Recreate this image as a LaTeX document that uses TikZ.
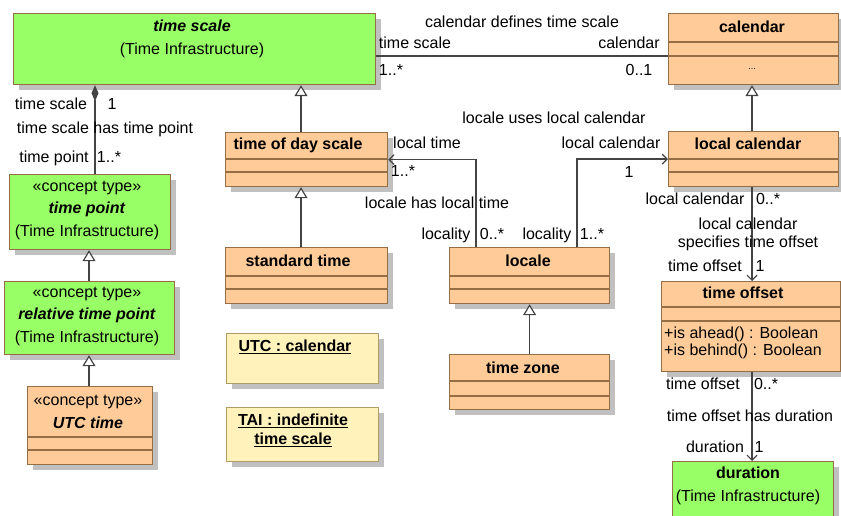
\documentclass[tikz,border=0pt]{standalone}
\usepackage{fontspec}
\setmainfont{Liberation Sans}
\usetikzlibrary{arrows.meta,shadows}

\definecolor{tigreen}{RGB}{153,255,102}
\definecolor{classorange}{RGB}{255,204,153}
\definecolor{objyellow}{RGB}{255,242,187}
\definecolor{boxbrown}{RGB}{150,110,70}
\definecolor{objbrown}{RGB}{175,155,100}
\definecolor{linegray}{RGB}{68,68,68}
\definecolor{shadowgray}{RGB}{192,192,192}

\begin{document}
\begin{tikzpicture}[x=1pt, y=-1pt,
    font=\fontsize{16}{22.5}\selectfont,
    umlbox/.style={draw=boxbrown, line width=1.2pt, anchor=north west, inner sep=0pt,
      drop shadow={shadow xshift=5pt, shadow yshift=-5pt, fill=shadowgray, opacity=1}},
    classbox/.style={umlbox, fill=classorange},
    tibox/.style={umlbox, fill=tigreen},
    objbox/.style={umlbox, draw=objbrown, fill=objyellow},
    compart/.style={draw=boxbrown, line width=1.2pt},
    ttl/.style={inner sep=0pt, align=center, font=\fontsize{16}{22.5}\selectfont\bfseries},
    txt/.style={inner sep=0pt, align=center},
    lbl/.style={inner sep=0pt},
    conn/.style={draw=linegray, line width=1.2pt},
    gen/.style={conn, -{Triangle[open, length=11pt, width=13pt, fill=white]}},
    nav/.style={conn, -{Straight Barb[length=5pt, width=10pt]}}]
  \useasboundingbox (0,0) rectangle (841,516);
  \clip (0,0) rectangle (841,516);

  % classes
  \node[tibox, minimum width=362pt, minimum height=71pt] (ts) at (13,13) {};
  \node[classbox, minimum width=170pt, minimum height=71pt] (cal) at (668,13) {};
  \node[classbox, minimum width=162pt, minimum height=54pt] (tods) at (225,132) {};
  \node[classbox, minimum width=162pt, minimum height=56pt] (std) at (225,247) {};
  \node[tibox, minimum width=161pt, minimum height=75pt] (tp) at (9,174) {};
  \node[tibox, minimum width=170pt, minimum height=73pt] (rtp) at (4,281) {};
  \node[classbox, minimum width=125pt, minimum height=78pt] (utc) at (27,386) {};
  \node[objbox, minimum width=152pt, minimum height=50pt] (utccal) at (226,333) {};
  \node[objbox, minimum width=152pt, minimum height=54pt] (tai) at (226,407) {};
  \node[classbox, minimum width=160pt, minimum height=56pt] (loc) at (449,247) {};
  \node[classbox, minimum width=160pt, minimum height=55pt] (tz) at (449,354) {};
  \node[classbox, minimum width=170pt, minimum height=55pt] (lcal) at (668,131) {};
  \node[classbox, minimum width=179pt, minimum height=90pt] (toff) at (661,281) {};
  \node[tibox, minimum width=161pt, minimum height=70pt] (dur) at (672,461) {};

  % compartments
  \draw[compart] (cal.west |- 0,42) -- (cal.east |- 0,42);
  \draw[compart] (cal.west |- 0,56) -- (cal.east |- 0,56);
  \draw[compart] (tods.west |- 0,159) -- (tods.east |- 0,159);
  \draw[compart] (tods.west |- 0,172) -- (tods.east |- 0,172);
  \draw[compart] (std.west |- 0,276) -- (std.east |- 0,276);
  \draw[compart] (std.west |- 0,289) -- (std.east |- 0,289);
  \draw[compart] (utc.west |- 0,437) -- (utc.east |- 0,437);
  \draw[compart] (utc.west |- 0,450) -- (utc.east |- 0,450);
  \draw[compart] (loc.west |- 0,276) -- (loc.east |- 0,276);
  \draw[compart] (loc.west |- 0,289) -- (loc.east |- 0,289);
  \draw[compart] (tz.west |- 0,381) -- (tz.east |- 0,381);
  \draw[compart] (tz.west |- 0,396) -- (tz.east |- 0,396);
  \draw[compart] (lcal.west |- 0,159) -- (lcal.east |- 0,159);
  \draw[compart] (lcal.west |- 0,172) -- (lcal.east |- 0,172);
  \draw[compart] (toff.west |- 0,307) -- (toff.east |- 0,307);
  \draw[compart] (toff.west |- 0,321) -- (toff.east |- 0,321);

  % class texts
  \node[txt] (tsname) at (192,39) {\textbf{\textit{time scale}}\\(Time Infrastructure)};
  \node[ttl] (calname) at (752,27) {calendar};
  \node[txt, font=\small] (calattr) at (752,69) {...};
  \node[ttl] (todsname) at (298,145) {time of day scale};
  \node[ttl] (stdname) at (298,261) {standard time};
  \node[txt] (tpname) at (87,210) {«concept type»\\\textbf{\textit{time point}}\\(Time Infrastructure)};
  \node[txt] (rtpname) at (87,316) {«concept type»\\\textbf{\textit{relative time point}}\\(Time Infrastructure)};
  \node[txt] (utcname) at (88,412) {«concept type»\\\textbf{\textit{UTC time}}};
  \node[ttl] (utccalname) at (295,347) {\underline{UTC : calendar}};
  \node[ttl, font=\fontsize{16}{19}\selectfont\bfseries] (tainame) at (293,430) {\underline{TAI : indefinite}\\\underline{time scale}};
  \node[ttl] (locname) at (528,261) {locale};
  \node[ttl] (tzname) at (523,368) {time zone};
  \node[ttl] (lcalname) at (748,144) {local calendar};
  \node[ttl] (toffname) at (743,293) {time offset};
  \node[lbl, anchor=west, align=left, font=\fontsize{16}{17.5}\selectfont] (toffops) at (664,343) {+is ahead() : Boolean\\+is behind() : Boolean};
  \node[txt] (durname) at (748,486) {\textbf{duration}\\(Time Infrastructure)};

  % generalizations
  \draw[gen] (tods.north -| 301,0) -- (ts.south -| 301,0);
  \draw[gen] (std.north -| 301,0) -- (tods.south -| 301,0);
  \draw[gen] (rtp.north -| 89,0) -- (tp.south -| 89,0);
  \draw[gen] (utc.north -| 89,0) -- (rtp.south -| 89,0);
  \draw[gen] (tz.north) -- (loc.south);
  \draw[gen] (lcal.north -| 752,0) -- (cal.south -| 752,0);

  % associations
  \draw[conn] (ts.east |- 0,56) -- (cal.west |- 0,56);
  \draw[conn, {Diamond[length=16pt, width=7pt, fill=linegray]}-] (ts.south -| 95,0) -- (tp.north -| 95,0);
  \draw[nav] (loc.north -| 476,0) |- (tods.east);
  \draw[nav] (loc.north -| 577,0) |- (lcal.west);
  \draw[nav] (lcal.south -| 752,0) -- (toff.north -| 752,0);
  \draw[nav] (toff.south -| 752,0) -- (dur.north -| 752,0);

  % association labels
  \node[lbl] (calts) at (522,22) {calendar defines time scale};
  \node[lbl] (caltsrole) at (415,43) {time scale};
  \node[lbl] (caltsmult) at (391,70) {1..*};
  \node[lbl] (calrole) at (629,43) {calendar};
  \node[lbl] (calmult) at (639,70) {0..1};

  \node[lbl] (tstp) at (105,129) {time scale has time point};
  \node[lbl] (tstprole) at (51,104) {time scale};
  \node[lbl] (tstpmult) at (112,104) {1};
  \node[lbl] (tprole) at (54,158) {time point};
  \node[lbl] (tpmult) at (109,157) {1..*};

  \node[lbl] (loclt) at (437,203) {locale has local time};
  \node[lbl] (ltrole) at (427,143) {local time};
  \node[lbl] (ltmult) at (403,171) {1..*};
  \node[lbl] (locrolea) at (446,235) {locality};
  \node[lbl] (locmulta) at (492,234) {0..*};

  \node[lbl] (loclc) at (554,118) {locale uses local calendar};
  \node[lbl] (lcrole) at (611,143) {local calendar};
  \node[lbl] (lcmult) at (629,172) {1};
  \node[lbl] (locroleb) at (547,235) {locality};
  \node[lbl] (locmultb) at (592,234) {1..*};

  \node[lbl, align=center, font=\fontsize{16}{18}\selectfont] (lcto) at (748,234) {local calendar\\specifies time offset};
  \node[lbl] (lcarole) at (695,199) {local calendar};
  \node[lbl] (lcamult) at (768,199) {0..*};
  \node[lbl] (torole) at (705,266) {time offset};
  \node[lbl] (tomult) at (760,266) {1};

  \node[lbl] (todur) at (750,416) {time offset has duration};
  \node[lbl] (todrole) at (703,384) {time offset};
  \node[lbl] (todmult) at (766,384) {0..*};
  \node[lbl] (durrole) at (715,447) {duration};
  \node[lbl] (durmult) at (759,447) {1};
\end{tikzpicture}
\end{document}
